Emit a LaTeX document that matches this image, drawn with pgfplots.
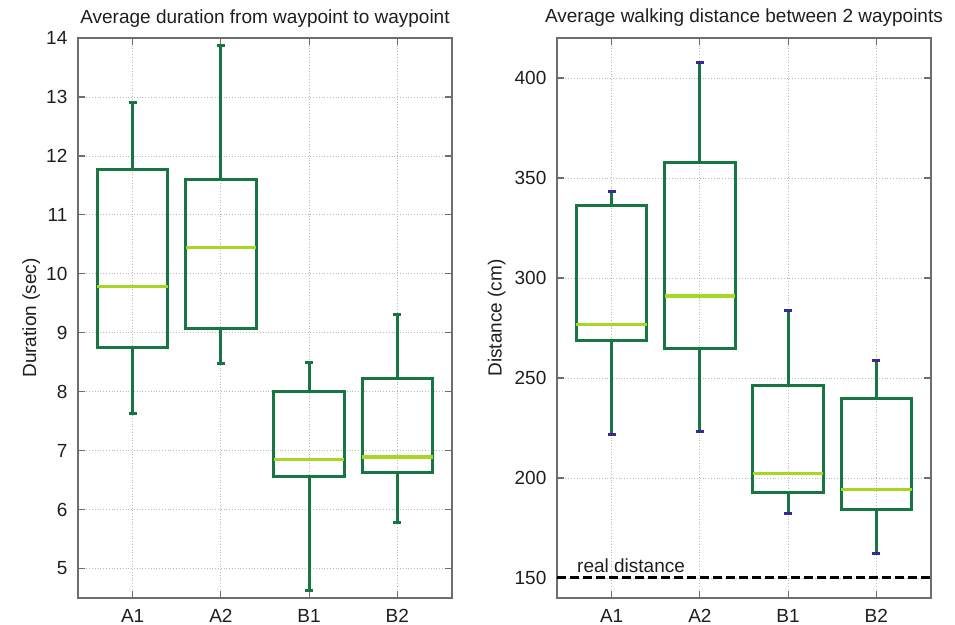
\documentclass[border=0pt]{standalone}
\usepackage{fontspec}
\setmainfont{Liberation Sans}
\usepackage{pgfplots}
\pgfplotsset{compat=1.18}
\usepgfplotslibrary{statistics}

\definecolor{boxgreen}{RGB}{24,118,66}
\definecolor{medgreen}{RGB}{165,215,35}
\definecolor{capblue}{RGB}{55,40,150}
\definecolor{framegray}{RGB}{110,110,110}
\definecolor{txt}{RGB}{30,30,30}

\pgfplotsset{
  gp/.style={
    scale only axis,
    width=187pt, height=280pt,
    xmin=0.38, xmax=4.62,
    xtick={1,2,3,4}, xticklabels={A1,A2,B1,B2},
    grid=major,
    major grid style={densely dotted, gray!55, line width=0.4pt},
    axis line style={framegray, line width=0.6pt},
    tick style={framegray, line width=0.6pt},
    tick align=inside, major tick length=3.5pt,
    minor tick num=0,
    font=\fontsize{9.5}{11}\selectfont,
    tick label style={txt},
    xticklabel style={yshift=-2.2pt},
    yticklabel style={xshift=-1.8pt},
    label style={txt},
    title style={txt, yshift=-4pt},
    /pgf/number format/assume math mode=true,
    boxplot/draw direction=y,
    boxplot/box extend=0.8,
    boxplot/whisker extend=0.09,
    boxplot/every median/.style={draw=medgreen, line width=1.7pt},
    boxplot/draw/lower whisker/.code={%
      \draw[/pgfplots/boxplot/every whisker/.try]
        (boxplot cs:\pgfplotsboxplotvalue{lower quartile}) --
        (boxplot cs:\pgfplotsboxplotvalue{lower whisker});
      \draw[/pgfplots/capstyle]
        (boxplot whisker cs:\pgfplotsboxplotvalue{lower whisker},0) --
        (boxplot whisker cs:\pgfplotsboxplotvalue{lower whisker},1);
    },
    boxplot/draw/upper whisker/.code={%
      \draw[/pgfplots/boxplot/every whisker/.try]
        (boxplot cs:\pgfplotsboxplotvalue{upper quartile}) --
        (boxplot cs:\pgfplotsboxplotvalue{upper whisker});
      \draw[/pgfplots/capstyle]
        (boxplot whisker cs:\pgfplotsboxplotvalue{upper whisker},0) --
        (boxplot whisker cs:\pgfplotsboxplotvalue{upper whisker},1);
    },
  },
  bx/.style={draw=boxgreen, line width=1.5pt},
}

\begin{document}
\begin{tikzpicture}
\path[use as bounding box] (0,0) rectangle (477.5pt,-312.5pt);

% left panel: duration
\begin{axis}[gp, at={(39pt,-299pt)}, anchor=south west,
    capstyle/.style={draw=boxgreen, line width=1.5pt},
    ymin=4.5, ymax=14, ytick={5,6,...,14},
    ylabel={Duration (sec)}, ylabel style={yshift=-3.8pt},
    title={Average duration from waypoint to waypoint}]
  \addplot[bx, boxplot prepared={draw position=1, lower whisker=7.63, lower quartile=8.75, median=9.78, upper quartile=11.77, upper whisker=12.9}] coordinates {};
  \addplot[bx, boxplot prepared={draw position=2, lower whisker=8.48, lower quartile=9.07, median=10.45, upper quartile=11.6, upper whisker=13.88}] coordinates {};
  \addplot[bx, boxplot prepared={draw position=3, lower whisker=4.62, lower quartile=6.56, median=6.85, upper quartile=8.0, upper whisker=8.5}] coordinates {};
  \addplot[bx, boxplot prepared={draw position=4, lower whisker=5.78, lower quartile=6.63, median=6.89, upper quartile=8.22, upper whisker=9.31}] coordinates {};
\end{axis}

% right panel: distance
\begin{axis}[gp, at={(278.5pt,-299pt)}, anchor=south west,
    capstyle/.style={draw=capblue, line width=1.5pt},
    ymin=140, ymax=420, ytick={150,200,...,400},
    ylabel={Distance (cm)}, ylabel style={yshift=-2.3pt},
    title={Average walking distance between 2 waypoints}]
  \addplot[black, line width=1.5pt, dash pattern=on 4.5pt off 2pt] coordinates {(0.38,150) (4.62,150)};
  \node[anchor=base west, inner sep=0pt, txt] at (axis cs:0.605,152.5) {real distance};
  \addplot[bx, boxplot prepared={draw position=1, lower whisker=221.5, lower quartile=268.8, median=276.7, upper quartile=336.4, upper whisker=343.2}] coordinates {};
  \addplot[bx, boxplot prepared={draw position=2, lower whisker=223, lower quartile=264.7, median=291, upper quartile=357.7, upper whisker=407.8}] coordinates {};
  \addplot[bx, boxplot prepared={draw position=3, lower whisker=182.3, lower quartile=192.7, median=202.2, upper quartile=246, upper whisker=283.8}] coordinates {};
  \addplot[bx, boxplot prepared={draw position=4, lower whisker=162.2, lower quartile=184, median=194.2, upper quartile=239.8, upper whisker=258.8}] coordinates {};
\end{axis}
\end{tikzpicture}
\end{document}
